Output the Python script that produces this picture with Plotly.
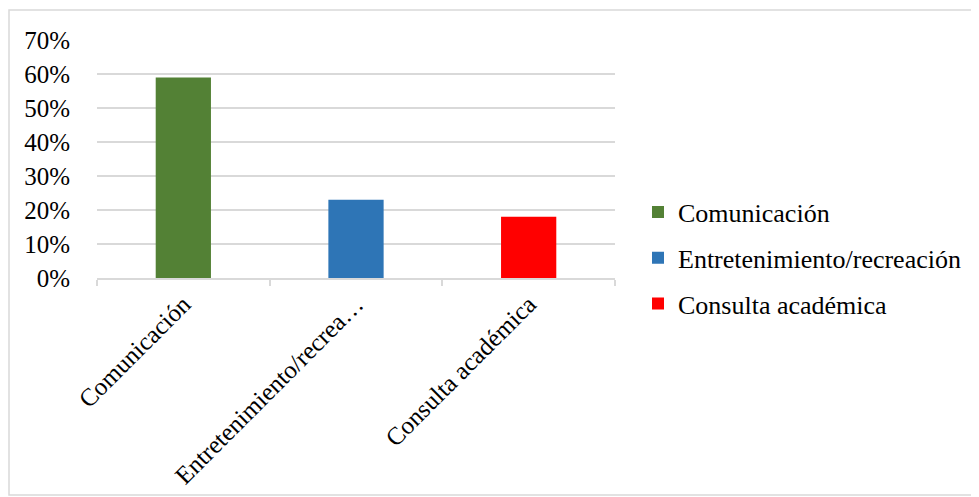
import plotly.graph_objects as go

categories = ["Comunicación", "Entretenimiento/recreación", "Consulta académica"]
tick_labels = ["Comunicación", "Entretenimiento/recrea…", "Consulta académica"]
values = [0.59, 0.23, 0.18]
colors = ["#538135", "#2E75B6", "#FF0000"]

FONT = "Times New Roman, Liberation Serif, DejaVu Serif, serif"

# page body has an 8px default margin; compensate so the plot lands where the reference has it
OFF = 8
L, T = 97 - OFF, 40 - OFF
PW, PH = 518, 238
W, H = 979 - OFF, 497 - OFF

fig = go.Figure()
for i, (cat, val, col) in enumerate(zip(categories, values, colors)):
    fig.add_trace(go.Bar(
        x=[cat], y=[val], name=cat, marker=dict(color=col, line=dict(width=0)),
        width=0.32, legendgroup=f"g{i}", hoverinfo="skip",
    ))

fig.update_layout(
    width=W, height=H,
    margin=dict(l=L, r=W - L - PW, t=T, b=H - T - PH, autoexpand=False),
    paper_bgcolor="white", plot_bgcolor="white",
    barmode="overlay",
    font=dict(family=FONT, size=25, color="#000000"),
    showlegend=True,
    legend=dict(x=(638 - 97) / PW, y=(278 - 258) / PH, xanchor="left", yanchor="middle",
                font=dict(family=FONT, size=26, color="#000000"),
                tracegroupgap=9, itemclick=False, itemdoubleclick=False,
                bgcolor="rgba(0,0,0,0)"),
    xaxis=dict(
        type="category", categoryorder="array", categoryarray=categories,
        tickvals=categories, ticktext=tick_labels, tickangle=-45,
        tickson="boundaries", ticks="outside", ticklen=6, tickcolor="#d9d9d9", tickwidth=1.5,
        showline=True, linecolor="#d9d9d9", linewidth=1.5,
        showgrid=False, tickfont=dict(family=FONT, size=25, color="#000000"),
        range=[-0.5, 2.5], automargin=False,
    ),
    yaxis=dict(
        range=[0, 0.7], dtick=0.1, tickformat=".0%",
        showgrid=True, gridcolor="#d9d9d9", gridwidth=1.5,
        zeroline=False, showline=False, ticks="",
        ticklabelstandoff=26, automargin=False,
        tickfont=dict(family=FONT, size=25, color="#000000"),
    ),
    shapes=[dict(type="rect", xref="paper", yref="paper",
                 x0=-(L - 1) / PW, x1=(975 - 97) / PW,
                 y0=-(495 - 278) / PH, y1=(278 - 10) / PH,
                 line=dict(color="#d9d9d9", width=1.5), fillcolor="rgba(0,0,0,0)", layer="below")],
)

fig.write_html("out.html")
